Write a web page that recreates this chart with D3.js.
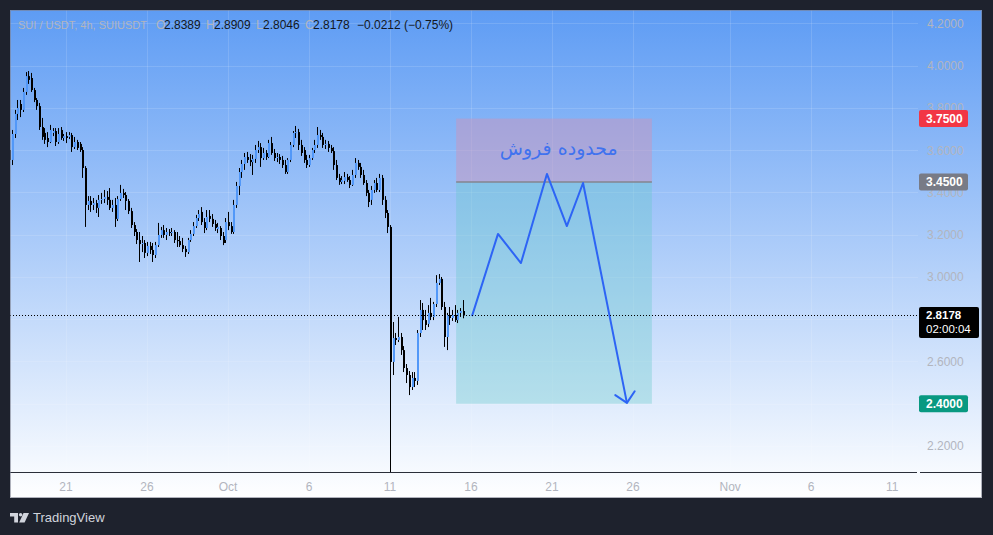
<!DOCTYPE html>
<html><head><meta charset="utf-8">
<script src="https://cdn.jsdelivr.net/npm/d3@7"></script>
<style>html,body{margin:0;padding:0;background:#1e222d;}svg{display:block}</style>
</head><body>
<svg id="chart" width="993" height="535"></svg>
<script>
// ---------- DATA ----------
const open = [
3.601,3.554,3.677,3.772,3.819,3.791,3.876,3.951,3.942,3.885,
3.838,3.809,3.710,3.682,3.658,3.639,3.682,3.691,3.639,3.696,
3.658,3.667,3.663,3.672,3.615,3.639,3.630,3.601,3.516,3.341,
3.360,3.341,3.350,3.327,3.365,3.369,3.379,3.365,3.327,3.341,
3.275,3.369,3.398,3.388,3.360,3.312,3.246,3.213,3.175,3.156,
3.161,3.114,3.147,3.128,3.104,3.151,3.199,3.222,3.199,3.213,
3.208,3.213,3.175,3.170,3.151,3.133,3.118,3.175,3.204,3.241,
3.279,3.308,3.260,3.232,3.289,3.275,3.251,3.227,3.232,3.194,
3.175,3.260,3.241,3.213,3.341,3.431,3.497,3.535,3.568,3.554,
3.544,3.559,3.601,3.615,3.563,3.587,3.568,3.634,3.587,3.563,
3.568,3.554,3.530,3.497,3.554,3.625,3.682,3.686,3.625,3.601,
3.554,3.530,3.563,3.601,3.625,3.672,3.663,3.625,3.630,3.611,
3.596,3.530,3.469,3.450,3.455,3.473,3.459,3.436,3.483,3.540,
3.521,3.483,3.445,3.398,3.365,3.412,3.445,3.412,3.469,3.365,
3.303,3.237,2.598,2.711,2.702,2.716,2.654,2.569,2.536,2.479,
2.522,2.508,2.735,2.844,2.796,2.778,2.830,2.811,2.872,2.972,
2.991,2.858,2.716,2.820,2.806,2.820,2.796,2.830,2.8389];
const close = [
3.554,3.677,3.772,3.800,3.791,3.876,3.951,3.933,3.885,3.838,
3.809,3.710,3.663,3.649,3.639,3.696,3.691,3.639,3.677,3.658,
3.667,3.658,3.672,3.615,3.639,3.611,3.601,3.516,3.341,3.360,
3.341,3.350,3.327,3.365,3.369,3.379,3.365,3.327,3.341,3.275,
3.369,3.398,3.388,3.360,3.312,3.246,3.213,3.175,3.156,3.161,
3.114,3.147,3.128,3.104,3.151,3.199,3.222,3.199,3.213,3.208,
3.213,3.175,3.170,3.151,3.133,3.118,3.175,3.204,3.241,3.279,
3.298,3.260,3.232,3.284,3.275,3.251,3.232,3.237,3.194,3.161,
3.260,3.241,3.213,3.341,3.431,3.497,3.535,3.568,3.554,3.544,
3.559,3.601,3.615,3.563,3.587,3.568,3.634,3.587,3.563,3.568,
3.554,3.530,3.497,3.554,3.625,3.682,3.686,3.625,3.587,3.554,
3.530,3.563,3.601,3.625,3.672,3.663,3.625,3.630,3.611,3.596,
3.530,3.469,3.450,3.459,3.473,3.459,3.436,3.483,3.540,3.521,
3.483,3.445,3.398,3.355,3.412,3.445,3.412,3.469,3.365,3.303,
3.237,2.598,2.711,2.702,2.716,2.654,2.569,2.536,2.479,2.522,
2.508,2.735,2.844,2.796,2.773,2.830,2.811,2.872,2.972,2.991,
2.858,2.716,2.820,2.806,2.820,2.796,2.830,2.839,2.8178];
const high = [
3.625,3.696,3.791,3.838,3.838,3.895,3.970,3.975,3.966,3.895,
3.847,3.824,3.753,3.705,3.686,3.720,3.705,3.705,3.705,3.710,
3.677,3.686,3.686,3.682,3.663,3.649,3.639,3.615,3.525,3.383,
3.383,3.374,3.365,3.388,3.398,3.412,3.407,3.421,3.365,3.374,
3.383,3.436,3.417,3.402,3.369,3.327,3.260,3.227,3.213,3.194,
3.175,3.166,3.166,3.161,3.166,3.256,3.237,3.246,3.232,3.227,
3.232,3.222,3.213,3.194,3.185,3.147,3.185,3.222,3.260,3.294,
3.317,3.331,3.279,3.317,3.317,3.298,3.270,3.256,3.241,3.213,
3.279,3.308,3.260,3.365,3.450,3.516,3.554,3.587,3.592,3.582,
3.578,3.625,3.644,3.634,3.611,3.601,3.649,3.663,3.606,3.587,
3.582,3.573,3.554,3.563,3.639,3.691,3.715,3.701,3.649,3.615,
3.578,3.578,3.611,3.649,3.710,3.696,3.682,3.649,3.644,3.625,
3.615,3.554,3.488,3.478,3.497,3.488,3.478,3.507,3.563,3.554,
3.540,3.507,3.459,3.412,3.431,3.459,3.469,3.488,3.483,3.383,
3.317,3.246,2.787,2.735,2.811,2.735,2.673,2.588,2.555,2.550,
2.550,2.749,2.891,2.877,2.844,2.867,2.901,2.882,3.009,3.014,
3.000,2.882,2.830,2.858,2.844,2.867,2.844,2.853,2.8909];
const low = [
3.525,3.530,3.658,3.743,3.757,3.781,3.862,3.914,3.876,3.828,
3.791,3.696,3.649,3.630,3.615,3.634,3.667,3.620,3.630,3.649,
3.644,3.634,3.653,3.592,3.606,3.601,3.592,3.469,3.237,3.317,
3.308,3.317,3.303,3.284,3.346,3.350,3.341,3.317,3.308,3.237,
3.265,3.360,3.374,3.317,3.298,3.232,3.194,3.156,3.071,3.118,
3.090,3.099,3.109,3.071,3.090,3.142,3.185,3.185,3.175,3.194,
3.194,3.161,3.142,3.142,3.118,3.095,3.109,3.166,3.194,3.232,
3.265,3.246,3.208,3.222,3.260,3.237,3.218,3.208,3.175,3.151,
3.161,3.222,3.204,3.204,3.327,3.388,3.469,3.507,3.540,3.525,
3.483,3.540,3.587,3.521,3.554,3.554,3.563,3.578,3.549,3.544,
3.535,3.516,3.488,3.488,3.544,3.615,3.658,3.601,3.573,3.540,
3.516,3.521,3.554,3.587,3.611,3.649,3.611,3.606,3.592,3.587,
3.507,3.459,3.436,3.440,3.440,3.450,3.421,3.431,3.469,3.507,
3.469,3.436,3.383,3.331,3.341,3.398,3.402,3.402,3.341,3.279,
3.208,0.560,2.536,2.678,2.692,2.631,2.550,2.498,2.441,2.465,
2.479,2.489,2.716,2.749,2.749,2.763,2.796,2.796,2.858,2.962,
2.844,2.669,2.654,2.773,2.792,2.787,2.782,2.811,2.8046];
const candleStart = Date.UTC(2025, 8, 17, 12);
const candleHours = 4;

const xTickDates  = ["2025-09-21","2025-09-26","2025-10-01","2025-10-06","2025-10-11","2025-10-16","2025-10-21","2025-10-26","2025-11-01","2025-11-06","2025-11-11"];
const xTickLabels = ["21","26","Oct","6","11","16","21","26","Nov","6","11"];
const yTicks = [2.2, 2.4, 2.6, 2.8, 3.0, 3.2, 3.4, 3.6, 3.8, 4.0, 4.2];

const zoneDates  = ["2025-10-15T02:00Z", "2025-10-27T04:00Z"];
const zoneStop   = 3.75;
const zoneEntry  = 3.45;
const zoneTarget = 2.40;

const pathDates  = ["2025-10-16T01:30Z","2025-10-17T16:00Z","2025-10-19T02:00Z","2025-10-20T16:30Z","2025-10-21T22:00Z","2025-10-22T22:00Z","2025-10-25T15:00Z"];
const pathValues = [2.815, 3.204, 3.066, 3.488, 3.241, 3.445, 2.404];

const noteText = "محدوده فروش";
const noteDate = "2025-10-21T10:00Z";
const noteValue = 3.578;

const priceTags = [
  {value: 3.75, text: "3.7500", color: "#f23645"},
  {value: 3.45, text: "3.4500", color: "#787b86"},
  {value: 2.40, text: "2.4000", color: "#089981"}
];
const lastPrice = 2.8178;
const countdown = "02:00:04";

const headerParts = [
  {t: "SUI / USDT, 4h, SUIUSDT", c: "#b2b5be", s: 11},
  {t: "O", c: "#b2b5be"}, {t: "2.8389", c: "#131722"},
  {t: "H", c: "#b2b5be"}, {t: "2.8909", c: "#131722"},
  {t: "L", c: "#b2b5be"}, {t: "2.8046", c: "#131722"},
  {t: "C", c: "#b2b5be"}, {t: "2.8178", c: "#131722"},
  {t: "\u22120.0212 (\u22120.75%)", c: "#131722"}
];
const headerX = [18, 156, 164, 206, 214, 256, 263, 305, 313, 357];

// ---------- LAYOUT ----------
const W = 993, H = 535;
const panel = {x: 10, y: 10, w: 972, h: 488};
const plot = {left: 10, right: 918, top: 10, bottom: 472};
const FONT = "'Liberation Sans', Arial, sans-serif";

const svg = d3.select("#chart");
const defs = svg.append("defs");
const grad = defs.append("linearGradient").attr("id", "bg")
  .attr("gradientUnits", "userSpaceOnUse").attr("x1", 0).attr("x2", 0)
  .attr("y1", panel.y).attr("y2", panel.y + panel.h);
grad.append("stop").attr("offset", 0).attr("stop-color", "#5e9cf4");
grad.append("stop").attr("offset", 1).attr("stop-color", "#ffffff");
defs.append("clipPath").attr("id", "plotClip").append("rect")
  .attr("x", plot.left).attr("y", plot.top)
  .attr("width", plot.right - plot.left).attr("height", plot.bottom - plot.top);

svg.append("rect").attr("width", W).attr("height", H).attr("fill", "#1e222d");
svg.append("rect").attr("x", panel.x).attr("y", panel.y).attr("width", panel.w).attr("height", panel.h)
  .attr("fill", "url(#bg)");

// scales
const x = d3.scaleUtc()
  .domain([new Date(Date.UTC(2025, 8, 17, 13, 2)), new Date(Date.UTC(2025, 10, 12, 14, 14))])
  .range([plot.left, plot.right]);
const y = d3.scaleLinear().domain([2.0769, 4.2639]).range([plot.bottom, plot.top]);

// grid
const grid = svg.append("g").attr("stroke", "rgba(255,255,255,0.13)").attr("stroke-width", 1);
grid.selectAll(".v").data(xTickDates).join("line")
  .attr("x1", d => Math.round(x(new Date(d + "T00:00Z"))) + 0.5)
  .attr("x2", d => Math.round(x(new Date(d + "T00:00Z"))) + 0.5)
  .attr("y1", plot.top).attr("y2", plot.bottom);
grid.selectAll(".h").data(yTicks).join("line")
  .attr("x1", plot.left).attr("x2", plot.right)
  .attr("y1", d => Math.round(y(d)) + 0.5).attr("y2", d => Math.round(y(d)) + 0.5);

const g = svg.append("g").attr("clip-path", "url(#plotClip)");

// zones
const zx0 = x(new Date(zoneDates[0])), zx1 = x(new Date(zoneDates[1]));
g.append("rect").attr("x", zx0).attr("width", zx1 - zx0)
  .attr("y", y(zoneStop)).attr("height", y(zoneEntry) - y(zoneStop))
  .attr("fill", "rgba(200,150,190,0.5)");
g.append("rect").attr("x", zx0).attr("width", zx1 - zx0)
  .attr("y", y(zoneEntry)).attr("height", y(zoneTarget) - y(zoneEntry))
  .attr("fill", "rgba(100,200,200,0.35)");
g.append("line").attr("x1", zx0).attr("x2", zx1)
  .attr("y1", y(zoneEntry)).attr("y2", y(zoneEntry))
  .attr("stroke", "#85858f").attr("stroke-width", 1.5);

// last price dotted line
svg.append("line").attr("x1", plot.left).attr("x2", plot.right)
  .attr("y1", Math.round(y(lastPrice)) + 0.5).attr("y2", Math.round(y(lastPrice)) + 0.5)
  .attr("stroke", "#000").attr("stroke-width", 1).attr("stroke-dasharray", "1,2");

// candles
const candles = open.map((o, i) => ({
  t: new Date(candleStart + i * candleHours * 3600e3), o, c: close[i], h: high[i], l: low[i]
}));
const cg = g.append("g");
cg.selectAll("line.w").data(candles).join("line")
  .attr("x1", d => Math.round(x(d.t)) + 0.5).attr("x2", d => Math.round(x(d.t)) + 0.5)
  .attr("y1", d => y(d.h)).attr("y2", d => y(d.l))
  .attr("stroke", "#000").attr("stroke-width", 1);
cg.selectAll("rect.b").data(candles).join("rect")
  .attr("x", d => Math.round(x(d.t))).attr("width", 2)
  .attr("y", d => y(Math.max(d.o, d.c)))
  .attr("height", d => Math.max(1, Math.abs(y(d.o) - y(d.c))))
  .attr("fill", d => d.c >= d.o ? "#5298f8" : "#000");

// forecast path
const pts = pathDates.map((d, i) => [x(new Date(d)), y(pathValues[i])]);
g.append("path").attr("d", d3.line()(pts))
  .attr("fill", "none").attr("stroke", "#2d64f5").attr("stroke-width", 2)
  .attr("stroke-linejoin", "round");
const [pa, pb] = pts.slice(-2);
const ang = Math.atan2(pa[1] - pb[1], pa[0] - pb[0]);
const L = 14, spread = Math.PI / 4;
const arm = s => [pb[0] + L * Math.cos(ang + s), pb[1] + L * Math.sin(ang + s)];
g.append("path").attr("d", d3.line()([arm(-spread), pb, arm(spread)]))
  .attr("fill", "none").attr("stroke", "#2d64f5").attr("stroke-width", 2)
  .attr("stroke-linejoin", "round").attr("stroke-linecap", "round");

// note text
svg.append("text").attr("x", x(new Date(noteDate))).attr("y", y(noteValue))
  .attr("text-anchor", "middle").attr("font-family", "'DejaVu Sans', sans-serif")
  .attr("font-size", 19).attr("fill", "#3f72ef").text(noteText);

// axis separators and frame
svg.append("line").attr("x1", panel.x).attr("x2", plot.right - 1)
  .attr("y1", plot.bottom + 0.5).attr("y2", plot.bottom + 0.5).attr("stroke", "#2a2e39");
svg.append("line").attr("x1", plot.right + 2).attr("x2", panel.x + panel.w)
  .attr("y1", plot.bottom + 0.5).attr("y2", plot.bottom + 0.5).attr("stroke", "#2a2e39");
svg.append("rect").attr("x", panel.x + 0.5).attr("y", panel.y + 0.5)
  .attr("width", panel.w - 1).attr("height", panel.h - 1)
  .attr("fill", "none").attr("stroke", "#7d8190").attr("stroke-opacity", 0.6);

// x axis labels
svg.append("g").selectAll("text").data(xTickDates).join("text")
  .attr("x", d => x(new Date(d + "T00:00Z"))).attr("y", 491)
  .attr("text-anchor", "middle").attr("font-family", FONT).attr("font-size", 12)
  .attr("fill", "#b2b5be").text((d, i) => xTickLabels[i]);

// y axis labels (the one hidden under the last-price box is not drawn, as in the reference)
const ly = y(lastPrice);
svg.append("g").selectAll("text").data(yTicks.filter(v => Math.abs(y(v) - ly - 7) > 16)).join("text")
  .attr("x", 927).attr("y", d => y(d) + 4.5)
  .attr("font-family", FONT).attr("font-size", 12)
  .attr("fill", "#b2b5be").text(d => d.toFixed(4));

// price tags
const tags = svg.append("g");
priceTags.forEach(p => {
  const cy = y(p.value);
  tags.append("rect").attr("x", 919).attr("y", cy - 8.5).attr("width", 49).attr("height", 17)
    .attr("rx", 2).attr("fill", p.color);
  tags.append("text").attr("x", 926).attr("y", cy + 4.5).attr("font-family", FONT)
    .attr("font-size", 12).attr("font-weight", 600).attr("fill", "#fff").text(p.text);
});
tags.append("rect").attr("x", 919).attr("y", ly - 8.5).attr("width", 60).attr("height", 31)
  .attr("rx", 2).attr("fill", "#000");
tags.append("text").attr("x", 926).attr("y", ly + 4).attr("font-family", FONT)
  .attr("font-size", 11.5).attr("font-weight", 600).attr("fill", "#fff").text(lastPrice.toFixed(4));
tags.append("text").attr("x", 926).attr("y", ly + 18).attr("font-family", FONT)
  .attr("font-size", 11.5).attr("fill", "#fff").text(countdown);

// header
const hdr = svg.append("g").attr("font-family", FONT);
headerParts.forEach((p, i) => {
  hdr.append("text").attr("x", headerX[i]).attr("y", 29)
    .attr("font-size", p.s || 12).attr("fill", p.c).text(p.t);
});

// TradingView logo
const logo = svg.append("g").attr("transform", "translate(10,513)").attr("fill", "#d1d4dc");
logo.append("path").attr("d", "M0 0H8V9.5H4.2V3.4H0Z");
logo.append("circle").attr("cx", 10.6).attr("cy", 1.7).attr("r", 1.7);
logo.append("path").attr("d", "M13.5 0H19L14.6 9.5H9.2Z");
svg.append("text").attr("x", 33).attr("y", 522).attr("font-family", FONT)
  .attr("font-size", 13).attr("fill", "#d1d4dc").text("TradingView");
</script>
</body></html>
